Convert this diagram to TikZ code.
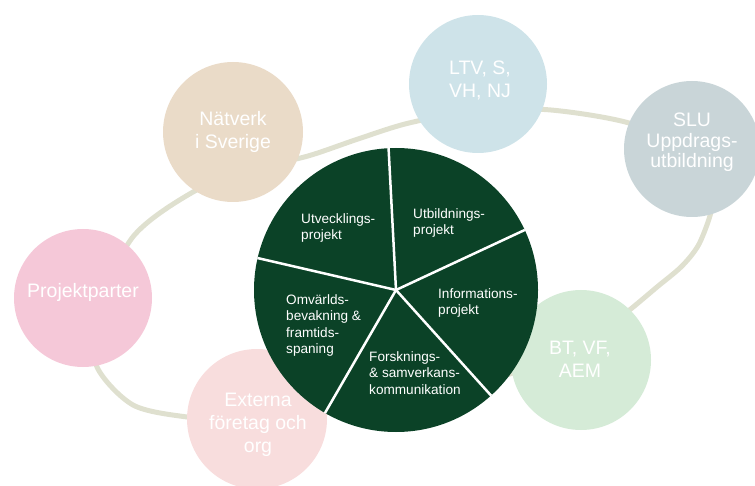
\documentclass[tikz,border=0pt]{standalone}
\usepackage{fontspec}
\setmainfont{Liberation Sans}
\definecolor{dkgreen}{HTML}{0B4227}
\definecolor{cbeige}{HTML}{EADBC8}
\definecolor{cblue}{HTML}{CEE3E9}
\definecolor{cgray}{HTML}{C9D5D8}
\definecolor{cpink}{HTML}{F5C8D8}
\definecolor{clpink}{HTML}{F8DDDD}
\definecolor{cgreen}{HTML}{D5EBD7}
\definecolor{ringc}{HTML}{DFE0CF}
\begin{document}
\begin{tikzpicture}[x=1pt,y=-1pt,
  outer/.style={circle, inner sep=0pt, minimum size=#1},
  otext/.style={text=white, align=center, font=\fontsize{19.5}{23}\selectfont, inner sep=0pt},
  itext/.style={text=white, align=left, anchor=north west, font=\fontsize{13.6}{16.5}\selectfont, inner sep=0pt},
  divider/.style={white, line width=2.5pt},
  ringline/.style={draw=ringc, line width=5pt}]
\useasboundingbox (0,0) rectangle (755,486);
\clip (0,0) rectangle (755,486);
% ring
\draw[ringline] plot[smooth cycle, tension=0.5] coordinates {
  (95,320) (132,238) (193,192) (250,170) (308,156) (358,139) (409,123)
  (480,110) (551,110) (629,123) (690,150) (713,195) (701,240) (683,265)
  (657,287) (632,308) (603,331) (560,356)
  (450,392) (330,412) (240,420) (187,417) (133,405) (97,367)};
% outer circles
\node[outer=140pt, fill=cbeige] (natv) at (233,132) {};
\node[outer=138pt, fill=cblue] (ltv) at (478,84) {};
\node[outer=136pt, fill=cgray] (slu) at (692,149) {};
\node[outer=138pt, fill=cpink] (pp) at (83,298) {};
\node[outer=140pt, fill=clpink] (ext) at (257,419) {};
\node[outer=140pt, fill=cgreen] (bt) at (581,360) {};
% outer texts
\node[otext] (tnatv) at (233,131.5) {Nätverk\\i Sverige};
\node[otext] (tltv) at (480,80.5) {LTV, S,\\VH, NJ};
\node[otext, font=\fontsize{19.5}{20.5}\selectfont] (tslu) at (692,142.5) {SLU\\Uppdrags-\\utbildning};
\node[otext] (tpp) at (83,292) {Projektparter};
\node[otext] (text) at (258,424.5) {Externa\\företag och\\org};
\node[otext] (tbt) at (580,359.5) {BT, VF,\\AEM};
% core
\node[outer=284pt, fill=dkgreen] (core) at (396,290) {};
\foreach \a in {93.5,25,-48.5,-120,167}
  \draw[divider] (core.center) -- (core.\a);
% inner texts
\node[itext] (utv) at (301,213) {Utvecklings-\\projekt};
\node[itext] (utb) at (413,208) {Utbildnings-\\projekt};
\node[itext] (inf) at (438,288) {Informations-\\projekt};
\node[itext] (omv) at (286,294) {Omvärlds-\\bevakning \&\\framtids-\\spaning};
\node[itext] (for) at (369,351) {Forsknings-\\\& samverkans-\\kommunikation};
\end{tikzpicture}
\end{document}
